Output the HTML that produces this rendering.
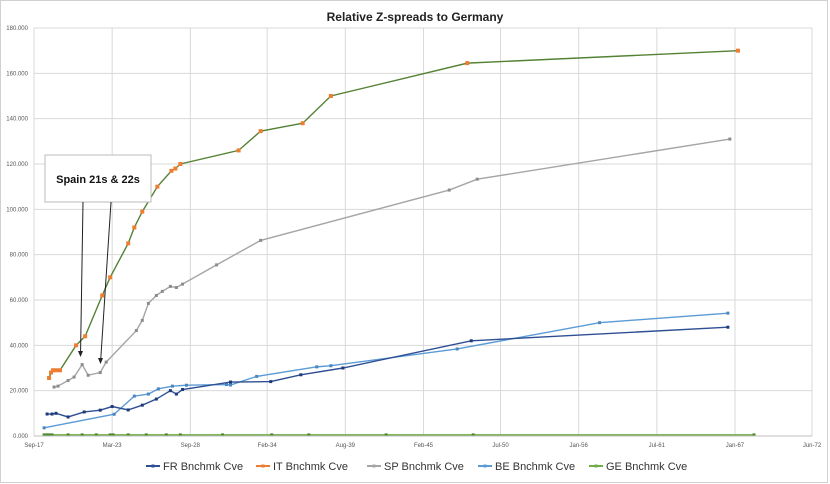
<!DOCTYPE html>
<html><head><meta charset="utf-8"><style>
body{margin:0;background:#fff;font-family:"Liberation Sans",sans-serif}
#wrap{position:relative;width:830px;height:484px;overflow:hidden}
</style></head><body>
<div id="wrap">
<svg id="chart" width="830" height="484" xmlns="http://www.w3.org/2000/svg">
<rect x="0.5" y="0.5" width="827" height="482" fill="#fff" stroke="#d0d0d0"/>
<text x="415" y="21" text-anchor="middle" font-size="12" font-weight="bold" fill="#222">Relative Z-spreads to Germany</text>
</svg>
</div>
<script>
const yTicks=[0,20,40,60,80,100,120,140,160,180];
const xTickYears=[2017.67,2023.17,2028.67,2034.08,2039.58,2045.08,2050.5,2056.0,2061.5,2067.0,2072.42];
const xTickLabels=["Sep-17","Mar-23","Sep-28","Feb-34","Aug-39","Feb-45","Jul-50","Jan-56","Jul-61","Jan-67","Jun-72"];
const frX=[2018.59,2018.94,2019.22,2020.07,2021.2,2022.33,2023.17,2024.3,2025.29,2026.28,2027.27,2027.69,2028.12,2031.5,2034.33,2036.45,2039.41,2048.44,2066.5];
const frY=[9.7,9.7,10,8.4,10.6,11.4,13,11.5,13.6,16.3,20,18.5,20.5,23.8,24,27,30,42,48];
const itX=[2018.73,2018.87,2019.01,2019.22,2019.5,2020.63,2021.27,2022.47,2023.03,2024.3,2024.73,2025.29,2026.35,2027.34,2027.62,2027.97,2032.07,2033.62,2036.58,2038.56,2048.16,2067.21];
const itY=[25.6,28,29,29,29,40,44,62,70,85,92,99,110,117,118,120,126,134.5,138,150,164.5,170];
const spX=[2019.08,2019.36,2020.07,2020.49,2021.06,2021.48,2022.33,2022.75,2024.87,2025.29,2025.72,2026.28,2026.7,2027.27,2027.69,2028.12,2030.52,2033.62,2046.89,2048.86,2066.64];
const spY=[21.6,22,24.5,26,31.5,26.8,28,32.6,46.5,51,58.5,62,63.8,66,65.5,67,75.5,86.3,108.5,113.3,131];
const beX=[2018.38,2023.31,2024.73,2025.72,2026.42,2027.41,2028.4,2031.22,2031.5,2033.34,2037.57,2038.56,2047.45,2057.47,2066.5];
const beY=[3.6,9.6,17.6,18.5,20.8,22,22.4,22.7,22.5,26.3,30.5,31,38.4,50,54.2];
const geX=[2018.38,2018.59,2018.73,2018.94,2020.07,2021.06,2022.05,2023.03,2023.24,2024.3,2025.57,2026.98,2027.97,2030.94,2034.4,2037.01,2042.45,2048.58,2068.34];
const geY=[0.5,0.5,0.5,0.5,0.5,0.5,0.5,0.5,0.5,0.5,0.5,0.5,0.5,0.5,0.5,0.5,0.5,0.5,0.5];
const NS="http://www.w3.org/2000/svg";
const svg=document.getElementById('chart');
const L=34,R=812,T=28,B=436,X0=2017.67,X1=2072.42;
function sx(v){return L+(v-X0)/(X1-X0)*(R-L);}
function sy(v){return B-v/180*(B-T);}
function el(t,a,p){const e=document.createElementNS(NS,t);for(const k in a)e.setAttribute(k,a[k]);(p||svg).appendChild(e);return e;}
yTicks.forEach((t,i)=>{
  const g=el('line',{x1:L,x2:R,y1:sy(t),y2:sy(t),stroke:'#d9d9d9','stroke-width':1});
  
  
  const tx=el('text',{x:L-6,y:sy(t)+2,'text-anchor':'end','font-size':6,fill:'#555'});
  tx.textContent=t.toFixed(3);
  
  
});
xTickYears.forEach((t,i)=>{
  const g=el('line',{x1:sx(t),x2:sx(t),y1:T,y2:B,stroke:'#d9d9d9','stroke-width':1});
  
  
  const tx=el('text',{x:sx(t),y:B+11,'text-anchor':'middle','font-size':6,fill:'#555'});
  tx.textContent=xTickLabels[i];
  
  
});
const series=[
 {n:'sp',x:spX,y:spY,c:'#a5a5a5',m:'#8c8c8c',ms:1.5},
 {n:'be',x:beX,y:beY,c:'#5b9bd5',m:'#4a86c0',ms:1.5},
 {n:'fr',x:frX,y:frY,c:'#2f4f94',m:'#1f3a78',ms:1.5},
 {n:'it',x:itX,y:itY,c:'#548235',m:'#ed7d31',ms:2},
 {n:'ge',x:geX,y:geY,c:'#70ad47',m:'#4e8a2c',ms:1.5}
];
series.forEach(s=>{
  const pts=s.x.map((v,i)=>sx(v)+','+sy(s.y[i])).join(' ');
  const pl=el('polyline',{points:pts,fill:'none',stroke:s.c,'stroke-width':1.4});
  
  
  s.x.forEach((v,i)=>{
    const r=el('rect',{x:sx(v)-s.ms,y:sy(s.y[i])-s.ms,width:s.ms*2,height:s.ms*2,fill:s.m});
    
    
  });
});
const ax=el('line',{x1:L,x2:R,y1:B,y2:B,stroke:'#bfbfbf'});


const box=el('rect',{x:45,y:155,width:106,height:47,fill:'#fff',stroke:'#bbb'});


const at=el('text',{x:98,y:183,'text-anchor':'middle','font-size':11,'font-weight':'bold',fill:'#111'});
at.textContent='Spain 21s & 22s';


[[83,202,80.5,356],[111,202,100.5,363]].forEach(a=>{
  const l=el('line',{x1:a[0],y1:a[1],x2:a[2],y2:a[3],stroke:'#222','stroke-width':1});
  
  
  const h=el('polygon',{points:(a[2]-2.5)+','+(a[3]-5)+' '+(a[2]+2.5)+','+(a[3]-5)+' '+a[2]+','+(a[3]+1),fill:'#222'});
  
  
});
const leg=[['FR Bnchmk Cve','#2f4f94',146],['IT Bnchmk Cve','#ed7d31',256],['SP Bnchmk Cve','#a5a5a5',367],['BE Bnchmk Cve','#5b9bd5',478],['GE Bnchmk Cve','#70ad47',589]];
leg.forEach(l=>{
  const g=el('g',{});
  
  
  el('line',{x1:l[2],x2:l[2]+14,y1:466,y2:466,stroke:l[1],'stroke-width':2},g);
  el('rect',{x:l[2]+5.5,y:464.5,width:3,height:3,fill:l[1]},g);
  const t=el('text',{x:l[2]+17,y:470,'font-size':11,fill:'#333'},g);
  t.textContent=l[0];
});
</script>
</body></html>
